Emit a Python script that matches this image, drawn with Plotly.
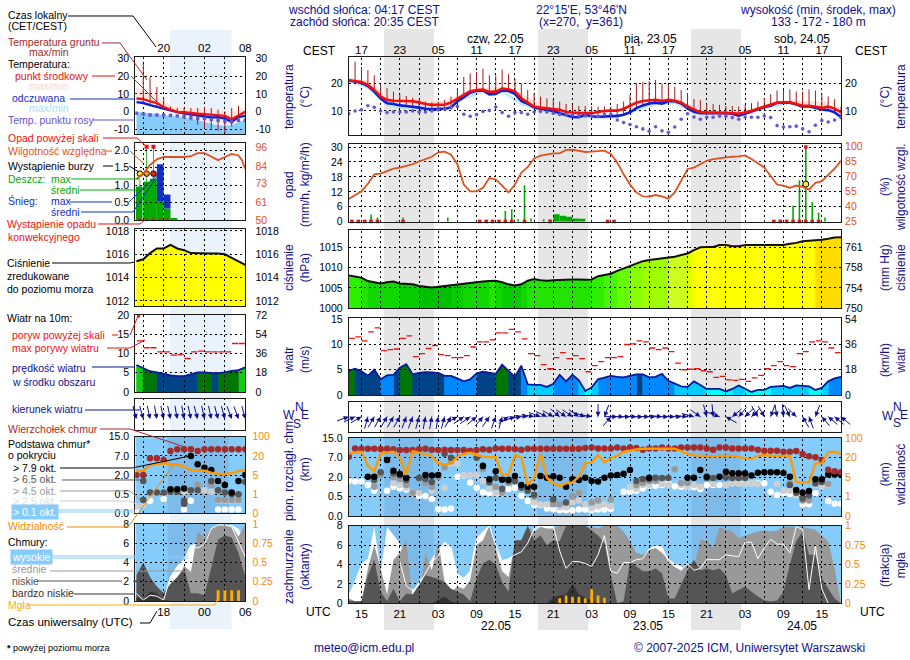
import math
import numpy as np
import plotly.graph_objects as go

W, H = 910, 660
FONT = "Liberation Sans"
NAVY = "#10108c"
ORANGE = "#f58a00"
RHC = "#e0501e"
BLUEBG = "#85ccfa"
BLUEBAND = "#7dbcea"

# ---------------- main meteogram data (hourly, t = hours since 21.05 00 UTC)
t_start = 13
temp_mid = [21.1,20.7,20.5,19.4,17.6,15.2,14.0,13.7,13.6,13.5,13.5,13.1,12.5,12.2,12.3,12.3,13.0,14.5,15.8,17.1,17.6,17.7,16.9,17.0,18.1,17.8,17.1,14.6,13.1,11.6,11.2,11.0,10.8,10.4,9.6,9.3,9.2,9.2,9.2,9.6,10.0,10.1,10.1,10.7,11.9,13.0,13.6,13.9,14.0,13.6,14.0,13.7,13.1,11.6,10.4,9.5,9.4,9.4,9.4,9.4,9.2,9.0,9.4,10.0,10.8,11.6,12.2,13.0,13.1,13.1,12.5,11.9,11.9,11.4,11.1,11.6,10.8,9.5]
temp_felt = [21.0,20.6,20.2,19.0,17.0,14.5,12.8,12.5,12.0,11.8,11.6,11.2,10.8,10.6,10.8,10.8,11.2,13.5,15.0,16.6,17.3,17.4,16.0,16.1,17.4,17.2,16.2,13.6,12.6,11.2,10.8,10.5,10.0,9.2,8.4,7.8,7.7,8.6,8.1,7.9,8.0,8.0,8.2,8.6,9.5,11.0,12.0,12.7,13.0,12.6,13.5,13.5,12.7,11.0,9.7,9.2,9.2,9.2,9.3,9.2,9.0,8.3,9.0,9.8,10.6,11.4,11.9,12.9,13.0,13.0,12.3,11.5,11.7,11.0,10.5,10.3,9.5,7.8]
dew_point = [9.0,10.0,10.4,11.9,11.3,10.0,9.4,9.6,9.6,9.6,10.0,9.6,9.6,10.0,10.4,10.7,11.2,11.6,8.8,8.1,8.7,9.8,10.2,11.4,9.4,8.1,9.4,9.4,8.8,9.6,9.8,9.6,9.2,8.7,8.7,8.4,8.2,8.2,8.2,8.0,8.7,8.8,6.7,5.8,5.1,4.3,3.5,2.7,4.3,2.8,2.3,4.2,7.0,9.0,7.8,7.0,7.7,7.7,8.1,8.1,7.6,7.0,7.8,7.7,7.7,8.2,7.6,4.7,4.2,4.3,4.5,3.5,2.5,4.8,6.5,6.0,6.7,7.6]
ground_max = [None,27.8,26.0,24.8,22.9,19.5,18.2,17.0,16.0,15.4,14.8,14.0,13.4,13.1,13.4,14.0,15.2,18.2,22.3,23.5,24.1,25.3,22.9,22.9,25.0,23.3,21.7,20.0,17.6,16.4,15.2,14.6,14.2,13.4,12.5,12.2,11.8,11.8,11.6,11.6,11.6,11.6,12.5,13.4,15.8,20.0,20.4,20.8,21.2,20.0,19.6,18.8,17.6,16.5,14.3,14.0,12.5,12.5,12.2,11.8,11.8,11.6,12.2,12.8,13.4,14.6,16.1,17.4,17.6,17.8,17.0,17.0,17.8,17.4,16.4,15.2,14.3,11.6]
band_t = [13,16,19,22,25,28,31,34,37,40,43,46,49,52,55,58,61,64,67,70,73,76,79,82,85,88]
pink_top = [22,21,15.5,14.8,14,13.5,16.5,18.2,18.8,16.5,12.5,11.5,10,10.3,10.8,13.6,14.5,14.3,11.5,11,10.5,10.8,13,14,13.5,13.2]
felt_bot = [20.5,18,11.7,10.5,9.5,10,14,16.5,16.5,12,9.8,8.2,7.2,7.2,7.4,10,12,12.5,9,8.8,8.5,9,11.2,12.4,11.2,9.5]

humidity = [47.4,51,55,62.5,71.9,72.5,75,77.6,78.6,80,81.9,84.6,86.6,89.3,93.6,94.3,91.3,81.9,61.8,55,55,58.5,68.2,66.8,60.8,54,61.8,73.5,79.2,87.6,90.3,91.6,92.6,92.6,96,96.3,95,94,94.3,95,95.3,92,83.6,71.9,61.8,54,50,49.8,51.4,50,47.8,54,65.2,77.2,78.6,81.9,85.3,87,87.9,88.6,89.3,89.6,90.6,87,82.9,78.6,70.2,61.8,60.8,58.5,60.8,59.5,56.8,63.5,65.2,70.9,77.6,85.3]
rain_t = [16.5,17.5,20.5,21.5,28.5,37.5,38.5,39.5,40.5,41.5,43.5,44.5,45.5,46.5,47.5,48.5,49.5,53.5,82.5,83.5,84.5,85.5,86.5,87.5]
rain_v = [2.9,1.7,0.4,1.7,1.7,4.3,5.0,1.0,14.6,1.3,1.0,1.0,3.0,2.4,2.0,1.3,1.2,0.2,6.4,16.7,30.0,7.9,3.7,1.7]
rain_w = [.25,.25,.2,.25,.25,.25,.25,.25,.25,.25,.25,.25,1,1,1,1,1,.3,.25,.25,.25,.25,.25,.25]
conv_t = [13.5,14.5,15.5,16.5,17.5,21.5,33.5,34.5,35.5,36.5,37.5,38.5,40.5,44.5,53.5,54.5,79.5,80.5,81.5,82.5,83.5,84.5,85.5,86.5]
storm_t = [84.5]
storm_v = [15.1]
over_t = [84.5]
over_v = [30]

pressure = [1008.1,1007.8,1007.5,1006.7,1006.4,1006.1,1006.4,1006.6,1006.1,1006.0,1005.9,1005.5,1005.3,1005.1,1005.3,1005.5,1005.6,1005.9,1006.1,1006.3,1006.5,1006.6,1006.7,1006.8,1006.4,1005.9,1005.6,1005.9,1006.8,1007.2,1006.9,1006.8,1006.9,1007.0,1007.0,1007.1,1007.1,1007.0,1007.1,1007.9,1008.2,1008.5,1009.2,1009.8,1010.5,1011.1,1011.6,1011.9,1012.1,1012.3,1012.5,1012.7,1013.1,1013.5,1014.3,1015.0,1015.1,1015.1,1015.6,1015.6,1015.3,1015.3,1015.6,1015.6,1015.6,1015.6,1015.6,1015.6,1015.6,1015.9,1016.1,1016.5,1016.6,1016.7,1016.9,1017.1,1017.4,1017.5]
wind = [4.8,5.2,4.7,3.8,5.0,3.1,3.9,4.0,5.4,6.1,4.1,4.4,4.5,4.5,4.4,3.8,3.8,3.3,2.7,3.1,4.3,4.6,4.4,4.2,6.0,4.8,3.6,5.8,2.1,2.0,2.0,1.6,2.2,4.0,2.7,4.0,2.9,0.8,1.5,3.1,3.4,3.8,3.6,3.5,3.8,4.1,4.1,3.5,3.6,4.2,2.8,2.3,1.7,1.6,2.7,2.0,1.2,1.2,1.2,0.7,1.2,1.9,1.3,0.6,1.0,1.0,1.6,1.7,1.8,1.4,1.9,1.8,1.7,1.0,1.4,2.7,3.3,3.6]
gust = [11.2,11.5,10.7,12.5,13.3,8.8,9.0,9.1,11.2,11.7,7.6,8.2,9.2,9.8,8.0,7.8,7.4,7.4,7.8,9.5,10.5,10.5,10.9,12.3,12.3,13.0,12.5,11.1,8.2,7.8,6.0,5.2,7.4,8.4,7.2,7.8,7.2,4.6,5.8,6.6,7.4,7.4,7.6,10.0,10.1,10.7,10.5,9.3,9.0,9.3,8.6,6.3,5.0,5.1,5.2,4.8,4.6,3.5,3.7,3.0,2.9,3.1,2.7,3.4,3.9,5.2,5.8,6.6,5.8,5.6,8.2,8.6,10.5,10.7,10.5,9.3,8.4]
wind_dir = [70,65,60,15,30,30,30,30,30,20,20,15,10,10,10,15,30,60,55,55,50,40,35,20,15,55,70,80,95,100,110,115,120,130,125,125,125,110,100,180,200,40,90,92,90,92,90,92,90,95,90,92,90,95,105,125,165,175,110,300,230,220,225,225,150,150,200,170,175,155,135,330,340,200,320,310,310,310]

cb_top = [3.05,3.48,3.46,3.46,3.46,3.45,3.46,3.43,3.4,3.4,3.4,3.43,3.46,3.41,3.4,3.41,3.4,3.4,3.4,3.36,3.4,3.43,3.41,3.48,3.46,3.46,3.45,3.41,3.46,3.46,3.46,3.46,3.46,3.46,3.46,3.46,3.46,3.5,3.53,3.48,3.48,3.48,3.53,3.48,3.53,3.5,3.41,3.48,3.48,3.53,3.48,3.48,3.53,3.53,3.53,3.53,3.48,3.41,3.53,3.53,3.48,3.48,3.48,3.48,3.41,3.36,3.36,3.36,3.31,3.31,3.34,3.19,3.07,3.02,2.88,2.38,2.3,2.25]
cb79_t = [16,17,19,20,21,22,25,26,27,34,35,36,37,38,39,40,41,42,43,44,45,46,47,48,49,50,51,52,53,54,55,56,57,60,66,67,68,69,71,72,73,74,75,76,77,78,79,80,81,82,83,84,85,86,87,88,89,90]
cb79_v = [2.02,2.02,2.88,2.33,2.16,1.97,2.11,2.09,2.11,2.59,1.89,2.3,1.87,1.87,2.06,1.6,1.51,1.51,2.06,1.97,2.04,1.97,1.51,1.89,1.85,1.97,1.8,1.77,1.97,2.09,2.11,2.18,2.37,1.97,1.97,1.97,2.37,2.02,2.02,2.28,2.2,2.2,2.2,2.08,2.23,2.25,2.25,2.25,2.21,2.02,1.34,1.2,1.29,1.89,1.89,2.13,2.14,2.14]
cb65_t = [17,18,20,21,22,24,25,26,28,29,33,34,35,36,37,38,39,40,41,42,45,47,58,59,60,61,62,63,69,70,72,73,74,75,82,83,84,85,86,87,89,90]
cb65_v = [1.85,2.25,2.2,2.1,1.85,1.95,1.9,1.75,3.2,3.0,3.0,2.55,1.75,1.95,1.4,1.8,1.8,1.45,1.3,1.1,.85,.7,1.8,1.9,1.9,1.97,1.95,1.95,1.95,1.95,2.0,1.95,1.95,1.95,1.6,1.2,.9,1.05,1.7,1.75,2.2,2.2]
cb45_t = [17,18,20,21,22,23,25,26,27,28,29,34,35,36,37,38,42,45,46,48,49,51,52,54,58,59,60,61,64,65,66,82,83,84,85,86,88,89]
cb45_v = [1.5,2.1,2.0,1.9,1.6,1.2,1.7,1.5,2.0,2.5,2.8,2.4,1.7,1.5,1.2,1.7,1.0,.6,.6,1.0,1.2,.7,.8,.85,1.6,1.7,1.8,1.8,2.4,1.7,1.7,1.7,1.3,.8,.8,1.65,1.65,2.1]
cb25_t = [20,21,22,23,24,26,28,29,30,31,32,33,34,35,36,37,38,42,43,44,46,47,48,49,50,51,52,53,54,57,58,59,60,62,63,65,66,67,68,70,72,73,74,75,76,77,80,81,82,83,86,87,88]
cb25_v = [1.7,1.6,1.45,1.2,1.2,1.3,1.45,2.7,2.7,2.1,2.1,2.1,1.8,1.4,1.2,1.2,1.7,.7,.6,.6,.45,.45,.7,.8,.6,.4,.5,.6,.5,1.5,1.4,1.6,1.6,1.65,1.6,1.6,1.5,1.6,1.5,1.65,1.6,1.7,1.65,1.65,1.7,1.65,1.65,1.3,1.3,1.1,1.6,1.5,1.6]
cb01_t = [13,14,15,16,17,19,20,21,22,23,24,25,26,27,28,29,30,31,32,33,34,35,36,37,38,39,40,41,42,43,44,45,46,47,48,49,50,51,52,53,54,56,57,58,59,60,61,62,63,64,65,66,67,68,69,70,71,72,73,74,75,76,77,78,79,80,81,82,83,84,85,86,88,89,90]
cb01_v = [1.82,1.77,1.77,1.6,1.3,1.3,1.51,1.42,1.37,1.2,1.03,1.03,.87,.36,.34,.39,2.02,2.08,1.72,1.46,1.22,1.17,1.17,1.17,1.39,1.46,1.03,.77,.57,.57,.39,.34,.29,.29,.29,.33,.34,.29,.33,.33,.36,1.25,1.25,1.3,1.42,1.56,1.56,1.6,1.68,1.53,1.51,1.48,1.48,1.39,1.6,1.6,1.6,1.6,1.68,1.68,1.68,1.68,1.68,1.68,1.25,1.08,1.17,1.13,1.08,.6,.6,1.17,.77,.63,.63]
visibility = [3.22,3.26,3.31,2.59,2.32,3.22,3.26,3.31,3.0,2.11,3.34,3.26,3.19,3.09,2.71,2.66,2.71,3.05,3.19,3.26,3.14,3.05,3.02,3.02,2.11,2.14,3.14,3.02,1.63,1.94,3.22,1.97,1.68,1.54,1.68,1.73,2.02,2.71,2.76,3.14,2.76,2.97,3.1,3.31,3.36,3.43,3.46,3.46,3.46,3.46,3.46,3.46,3.34,3.19,3.12,3.1,3.07,3.07,3.09,3.09,3.09,3.03,2.97,2.93,3.09,3.14,3.09,3.09,3.09,3.09,1.75,1.73,1.73,2.71,2.71,3.28,3.31,3.19]

cl_high = [.9,2.4,4.1,4.6,7.9,3.2,7.9,7.0,6.2,4.5,1.3,2.2,3.6,4.6,5.6,6.3,5.7,3.0,2.6,3.3,6.7,7.4,8.0,5.7,4.3,4.6,5.0,6.0,7.0,7.5,8.0,8.0,8.0,7.0,7.0,6.5,6.0,6.0,6.0,5.0,4.5,4.0,3.5,4.2,4.5,4.6,4.8,5.6,5.9,5.8,4.6,4.1,3.8,3.3,4.3,3.4,3.0,2.5,2.0,1.5,1.0,.5,.2,0,0,0,0,0,0,0,0,0,0,0,0,0,0,0]
cl_mid = [.5,.2,.2,3.6,6.0,3.6,.9,4.5,5.2,6.5,.7,.9,5.2,3.4,6.5,2.2,1.2,1.7,1.5,2.4,6.0,6.5,8.0,5.5,3.3,2.7,6.4,6.5,7.9,7.4,7.9,7.7,7.7,8.0,8.0,8.0,8.0,7.9,7.9,7.7,8.0,8.0,8.0,7.4,6.4,5.2,5.0,5.5,5.7,5.2,4.5,3.8,3.4,4.1,3.8,6.5,6.5,5.7,7.9,7.6,7.4,6.7,7.0,7.2,7.4,7.5,7.4,7.5,7.9,7.9,7.9,7.9,7.7,7.6,7.0,6.4,3.6,.2]
cl_low = [.3,.2,.2,2.9,4.5,1.2,.2,1.5,.2,1.0,.9,1.9,2.9,2.7,2.5,2.2,1.5,1.2,.9,.2,2.6,4.1,4.5,4.0,2.2,1.2,6.5,6.5,8.0,6.5,7.0,6.0,6.5,6.4,8.0,8.0,8.0,8.0,7.5,7.0,6.2,2.9,0,.2,4.3,3.8,3.3,3.3,3.6,3.1,.5,.5,1.9,3.4,4.5,3.4,3.6,3.4,3.6,2.9,1.0,1.4,1.7,1.2,.7,.3,.2,.3,1.2,4.0,6.4,7.4,5.0,5.0,2.6,1.5,.5,0]
cl_vlow = [0,0,0,0,0,0,0,0,0,0,0,0,0,0,.35,.7,.2,0,0,0,0,0,0,0,0,0,0,0,0,0,0,0,.6,.8,.9,2.0,.9,.6,.2,0,0,0,0,0,0,0,0,0,0,0,0,0,0,0,0,0,0,0,0,0,0,0,0,0,0,0,0,0,0,0,0,0,0,0,0,0,0,0]
cl_line_t = list(range(21, 89))
cl_line = [4.3,1.8,1.3,1.9,3.1,4.3,4.8,6.3,5.8,3.0,2.6,3.3,6.7,7.4,8.0,6.0,4.4,4.6,5.0,5.3,6.2,7.7,8.0,8.0,8.0,5.4,3.6,4.3,4.3,4.1,3.8,5.0,7.0,3.3,3.1,4.2,4.2,4.5,4.6,5.6,5.9,5.8,4.3,3.8,3.4,4.1,3.4,3.6,4.5,4.5,4.5,5.0,4.9,4.8,6.3,6.3,4.6,5.7,6.6,6.1,6.1,5.2,7.9,7.6,1.4,5.9,1.5,0.0]
fog_t = [46,47,48,49,50,51,52,53]
fog_v = [.065,.1,.086,.086,.065,.18,.1,.07]

# ---------------- legend (left mini) data, t = 14 .. 30
mt = list(range(14, 31))
m_red = [7.4,7.0,5.7,4.8,2.5,1.0,-0.2,-0.4,-1.0,-1.3,-1.5,-1.9,-2.3,-2.5,-4.4,-2.5,-0.2]
m_blue = [5.3,4.8,3.6,2.5,1.5,0.4,-0.4,-1,-1.5,-2.3,-2.9,-3.4,-3.2,-4,-5.9,-3.2,-2.5]
m_pink = [14,12,10.5,8,6,4,3,2.5,2,1.5,1,1,.5,.5,0,1,2]
m_lblue = [-.5,-.5,-1,-1.5,-2,-2.5,-3,-3.5,-4,-5,-6,-7,-8,-8,-8,-6,-5]
m_dew = [-1,-1.5,-2,-2,-2,-2.2,-2.5,-3,-3.5,-4,-4,-4.5,-5,-5.5,-6,-5,-5]
m_gmax = [None,27,19.4,13.9,7.6,2.9,1.9,2,2,2,2,2,1,0,2,3.2,None]
m_gmin = [None,5,3.6,2.5,1.5,.4,-.4,-2.5,-5,-7.6,-9.5,-10.5,-11,-12.4,-8.6,-2.9,None]
m_rh = [76,79.5,85,88.5,90,90,90,90,90.5,92.5,92.5,90,88,90,92,91,88,82.5]
m_rh_t = [14,15,16,17,18,19,20,21,22,23,24,25,26,27,28,29,29.5,30]
m_rain_t = [14.4,15.5,16.5,17.5,18.5,19.5]
m_rain = [.96,1.1,1.18,.52,.33,.06]
m_snow = [0,0,0,1.08,.4,0]
m_spike_t = [14.5,15.5,16.5]
m_spike = [1.15,2.13,2.13]
m_conv_t = [14.5,15.5,16.5,17.5,18.5]
m_storm_t = [14.5,15.5,16.5]
m_storm_v = [1.33,1.33,1.33]
m_storm_c = ["#ffee33","#f0a020","#ee2211"]
m_over_t = [15.5,16.5]
m_press = [1015.4,1015.57,1016.1,1016.5,1016.5,1016.8,1016.5,1016.35,1016.1,1016.07,1016.07,1016.07,1016.07,1016,1015.7,1015.4,1015.1]
m_wind = [7,6.1,5.4,5.1,4.8,4.3,4.1,4.1,4.6,5.1,5.1,4.9,4.9,5.1,5.5,5.7,6.4]
m_gust = [13.3,11.5,11.5,10.4,10.4,9.6,9.7,8.7,10.4,10.6,10.4,10.4,10.4,10.4,12.6,12.6]
m_dir = [165,165,168,170,168,168,170,170,168,165,168,168,165,165,160,160,165]
m_top = [2,2,2.87,2.87,2.78,3.25,3.34,3.34,3.34,3.25,3.34,3.34,3.34,3.34,3.34,3.34,3.34]
m_b79_t = [19,20,21,22,23,24,25,26,27,28,29,30]
m_b79 = [1.25,1.25,1.3,2.99,2.56,2.38,2.26,1.69,1.48,1.08,1.69,2.0]
m_b65_t = [15,15,16,17,18,19,20,21,21,22,23,25,26,27,28,29,30]
m_b65 = [1.69,.7,1.08,1.08,1.08,1.13,1.13,.66,.5,1.2,1.2,1.69,1.2,1.08,1.0,1.0,1.65]
m_b45_t = [15,19,23,25,26,27,28,29]
m_b45 = [.7,1.25,1.48,1.48,.7,.7,.7,.7]
m_b25_t = [14,15,16,17,18,19,20,21,23,24,25,26,27,28,29]
m_b25 = [.35,.43,1.04,1.08,1.08,1.25,1.22,1.13,1.22,1.22,1.13,.66,.66,.66,.66]
m_b01_t = [14,15,16,18,21,22,26,27,28,29]
m_b01 = [.17,.6,.66,.73,.2,.66,.2,.2,.2,.2]
m_vis = [2.21,2.23,2.52,2.57,2.61,2.57,2.56,2.43,2.26,2.23,2.23,2.12,2.05,2.05,2.09,2.21,2.26]
m_cl_high = [0,0,0,0,.3,2.5,3.6,4.3,5.8,6,6.6,7.6,7.9,7.9,7.9,7.5,6.3]
m_cl_mid = [1.5,1,.8,.7,1,1.5,1.8,3.7,3,7.2,6.6,7.6,7.9,7.9,7.8,6.7,8]
m_cl_low = [2.7,4,2.5,1.5,.8,1.8,2.5,3.4,.8,.8,.6,3.5,6.4,6.8,6.6,5,2.5]
m_cl_vlow = [.4,.1,1,.8,.1,0,0,0,0,0,0,0,0,0,0,0,0]
m_cl_line_t = [14,15,16,17,18,19,20,21,22,23,24,25,26,27,28,29,30]
m_cl_line = [.8,.1,.6,.5,.1,2.5,3.6,4.3,5.8,5.5,5.9,7.5,7.9,7.9,7.7,6.2,4.6]
m_fog_t = [26,27,28,29]
m_fog = [.14,.14,.14,.14]

# ---------------- axis labels
ut_ticks = [15,21,27,33,39,45,51,57,63,69,75,81,87]
cest_txt = ["17","23","05","11","17","23","05","11","17","23","05","11","17"]
utc_txt = ["15","21","03","09","15","21","03","09","15","21","03","09","15"]
cb_pos = [0,1,2,3,4]
cb_txt = ["0.0","0.5","2.0","7.0","15.0"]
vis_txt = ["0","1","5","20","100"]
cb_txt_main = ["0.0","0.5","2.0","7.0","15.0"]

fig = go.Figure()
layout = {}
shapes = []
annots = []


def px(x):
    return x / W


def py(y):
    return 1 - y / H


def panel(n, x0, x1, y0, y1, xr, yr, yvals=None, ytxt=None, rr=None, rvals=None, rtxt=None,
          rcolor="#000", xvals=None, xtxt=None, xside="bottom", left_color="#000", fs=10.5, rlen=1, xlen=0):
    xa = dict(domain=[px(x0), px(x1)], range=xr, anchor=f"y{n}", showgrid=False, zeroline=False, automargin=False,
              showline=True, mirror=True, linecolor="#1a1a1a", linewidth=1, side=xside,
              tickmode="array", tickvals=xvals or [], ticktext=xtxt or [], ticks="outside", ticklen=xlen,
              tickcolor="rgba(0,0,0,0)", tickfont=dict(family=FONT, size=11.5, color="#000"),
              fixedrange=True)
    ya = dict(domain=[py(y1), py(y0)], range=yr, anchor=f"x{n}", showgrid=False, zeroline=False, automargin=False,
              showline=True, mirror=True, linecolor="#1a1a1a", linewidth=1,
              tickmode="array", tickvals=yvals or [], ticktext=ytxt or [], ticks="outside", ticklen=3,
              tickcolor="rgba(0,0,0,0)", tickfont=dict(family=FONT, size=fs, color=left_color),
              fixedrange=True)
    rng = rr or yr
    rv = rvals if rvals is not None else (yvals or [])
    ya2 = dict(overlaying=f"y{n}", side="right", anchor=f"x{n}", range=rng, showgrid=False, zeroline=False, automargin=False,
               showline=False, tickmode="array", tickvals=rv, ticktext=rtxt or [], ticks="outside", ticklen=rlen,
               tickcolor="rgba(0,0,0,0)", tickfont=dict(family=FONT, size=fs, color=rcolor), fixedrange=True)
    layout[f"xaxis{n}"] = xa
    layout[f"yaxis{n}"] = ya
    layout[f"yaxis{n+14}"] = ya2
    # an axis without a trace is not drawn: keep the right-hand scale alive
    fig.add_trace(go.Scatter(x=[xr[0]], y=[rng[0]], mode="markers", marker=dict(size=1, opacity=0), xaxis=f"x{n}",
                             yaxis=f"y{n+14}", hoverinfo="skip", showlegend=False))


def grid(n, xr, yr, xs, ys):
    gx, gy = [], []
    for v in xs:
        gx += [v, v, None]
        gy += [yr[0], yr[1], None]
    for v in ys:
        gx += [xr[0], xr[1], None]
        gy += [v, v, None]
    fig.add_trace(go.Scatter(x=gx, y=gy, mode="lines", xaxis=f"x{n}", yaxis=f"y{n}", hoverinfo="skip",
                             line=dict(color="#000", width=1, dash="2px,3px"), showlegend=False))


def line(n, x, y, color, width=1, right=False, shape="linear"):
    fig.add_trace(go.Scatter(x=x, y=y, mode="lines", xaxis=f"x{n}", yaxis=f"y{n+14 if right else n}",
                             line=dict(color=color, width=width, shape=shape), hoverinfo="skip", connectgaps=False,
                             showlegend=False))


def area(n, x, ytop, ybot, color, right=False):
    xs = list(x) + list(x)[::-1]
    if np.isscalar(ybot):
        ybot = [ybot] * len(x)
    ys = list(ytop) + list(ybot)[::-1]
    fig.add_trace(go.Scatter(x=xs, y=ys, mode="lines", fill="toself", fillcolor=color, line=dict(width=0),
                             xaxis=f"x{n}", yaxis=f"y{n+14 if right else n}", hoverinfo="skip", showlegend=False))


def dots(n, x, y, color, size=6.5, symbol="circle", right=False, mline=None, clip=True):
    fig.add_trace(go.Scatter(x=x, y=y, mode="markers", xaxis=f"x{n}", yaxis=f"y{n+14 if right else n}",
                             cliponaxis=clip, hoverinfo="skip", showlegend=False,
                             marker=dict(color=color, size=size, symbol=symbol,
                                         line=dict(width=1 if mline else 0, color=mline or color))))


def seg_fill(n, x, y, colorfn, base):
    groups = {}
    for i in range(len(x) - 1):
        c = colorfn((y[i] + y[i + 1]) / 2)
        g = groups.setdefault(c, ([], []))
        g[0].extend([x[i], x[i + 1], x[i + 1], x[i], x[i], None])
        g[1].extend([y[i], y[i + 1], base, base, y[i], None])
    for c, (gx, gy) in groups.items():
        fig.add_trace(go.Scatter(x=gx, y=gy, mode="lines", fill="toself", fillcolor=c, line=dict(width=0.6, color=c),
                                 xaxis=f"x{n}", yaxis=f"y{n}", hoverinfo="skip", showlegend=False))


def press_color(p):
    steps = [(1005.6, "#00c000"), (1006.2, "#08cc00"), (1006.7, "#10d800"), (1007.3, "#22e400"), (1008.3, "#2cf000"),
             (1009.5, "#44f800"), (1010.5, "#66ff00"), (1011.5, "#88ff00"), (1012.6, "#a0ff00"), (1013.4, "#ccff20"),
             (1014.3, "#e4ff00"), (1016.8, "#ffff00"), (1099, "#ffdc00")]
    for lim, c in steps:
        if p < lim:
            return c
    return "#ffdc00"


def m_press_color(p):
    return "#ffd000" if p > 1016.65 else "#ffff00"


def wind_color(v):
    if v < 1.5:
        return "#00ffff"
    if v < 2.5:
        return "#00ccff"
    if v < 4.0:
        return "#0088ff"
    if v < 5.0:
        return "#004488"
    if v < 6.0:
        return "#007700"
    return "#11cc11"


def arrow(n, x, y, bearing, L):
    r = math.radians(bearing)
    annots.append(dict(x=x, y=y, xref=f"x{n}", yref=f"y{n}", text="", showarrow=True, arrowhead=2, arrowsize=1,
                       arrowwidth=1, arrowcolor="#10108c", ax=-L * math.sin(r), ay=L * math.cos(r)))


def txt(x, y, s, color="#000", size=10.5, anchor="left", angle=0, bg=None):
    d = dict(x=px(x), y=py(y), xref="paper", yref="paper", text=s, showarrow=False, xanchor=anchor, yanchor="middle",
             font=dict(family=FONT, size=size, color=color), textangle=angle, align="center")
    if bg:
        d["bgcolor"] = bg
    annots.append(d)


def lead(pts, color="#000", width=1):
    path = "M " + " L ".join(f"{px(a):.5f} {py(b):.5f}" for a, b in pts)
    shapes.append(dict(type="path", path=path, xref="paper", yref="paper", line=dict(color=color, width=width),
                       layer="above"))


def rect_shape(n, x0, x1, y0, y1, color):
    shapes.append(dict(type="rect", xref=f"x{n}", yref=f"y{n}", x0=x0, x1=x1, y0=y0, y1=y1,
                       fillcolor=color, line=dict(width=0), layer="below"))


# ---- paper bands
for a, b in [(384, 434), (538, 588), (691, 741)]:
    shapes.append(dict(type="rect", xref="paper", yref="paper", x0=px(a), x1=px(b), y0=py(630), y1=py(29),
                       fillcolor="#e6e6e6", line=dict(width=0), layer="below"))
shapes.append(dict(type="rect", xref="paper", yref="paper", x0=px(170), x1=px(231.5), y0=py(629), y1=py(30),
                   fillcolor="#eaf2fc", line=dict(width=0), layer="below"))

XM = [13, 90]
XL = [13.83, 30]
Tall = np.arange(t_start, t_start + len(temp_mid))
Tlist = [int(v) for v in Tall]
g3 = list(range(15, 91, 3))
g3m = [15, 18, 21, 24, 27]
nights = [(18.58, 26.28), (42.58, 50.28), (66.58, 74.28)]

# ================= MAIN PANELS =================
# 1 temperature
yr = [1.3, 29.4]
panel(1, 348.7, 841, 57.3, 135, XM, yr, [10, 20], ["10", "20"], rtxt=["10", "20"], xvals=ut_ticks, xtxt=cest_txt, xside="top")
layout["xaxis1"]["ticklabelstandoff"] = -2
area(1, band_t, pink_top, [temp_mid[v - 13] for v in band_t], "#fde0da")
area(1, band_t, [temp_felt[v - 13] for v in band_t], felt_bot, "#c3e8f8")
grid(1, XM, yr, g3, [10, 20])
gx, gy = [], []
for i, v in enumerate(ground_max):
    if v is not None:
        gx += [Tlist[i], Tlist[i], None]
        gy += [temp_felt[i], v, None]
line(1, gx, gy, "#a01c1c", 1)
line(1, Tlist, temp_felt, "#0a1ee0", 2.6)
line(1, Tlist, temp_mid, "#f01010", 2.6)
dots(1, Tlist, dew_point, "#6a55cc", 3.6)

# 2 precipitation
yr = [0, 31.1]
rr = [25, 101.6]
panel(2, 348.7, 841, 144.3, 221.7, XM, yr, [0, 6, 12, 18, 24, 30], ["0", "6", "12", "18", "24", "30"], rr=rr,
      rvals=[25, 40, 55, 70, 85, 100], rtxt=["25", "40", "55", "70", "85", "100"], rcolor=RHC)
fig.add_trace(go.Bar(x=rain_t, y=rain_v, width=rain_w, marker=dict(color="#00aa00", line=dict(width=0)), xaxis="x2", yaxis="y2",
                     hoverinfo="skip", showlegend=False))
grid(2, XM, yr, g3, [6, 12, 18, 24, 30])
dots(2, conv_t, [0.1] * len(conv_t), "#e81414", 3.6, "square", clip=False)
dots(2, over_t, over_v, "#e81414", 4, "circle")
dots(2, storm_t, storm_v, "#ffee33", 6, "circle", mline="#000")
line(2, Tlist, humidity, RHC, 1.8, right=True)

# 3 pressure
yr = [1000, 1019.2]
panel(3, 348.7, 841, 230.3, 308.3, XM, yr, [1000, 1005, 1010, 1015], ["1000", "1005", "1010", "1015"],
      rtxt=["750", "754", "758", "761"])
seg_fill(3, Tlist, pressure, press_color, 1000)
grid(3, XM, yr, g3, [1005, 1010, 1015])
line(3, Tlist, pressure, "#111", 2)

# 4 wind
yr = [0, 15.3]
panel(4, 348.7, 841, 317.7, 395, XM, yr, [0, 5, 10, 15], ["0", "5", "10", "15"], rtxt=["0", "18", "36", "54"])
seg_fill(4, Tlist, wind, wind_color, 0)
grid(4, XM, yr, g3, [5, 10])
line(4, Tlist, wind, "#0a1a9a", 1.8)
gx, gy = [], []
for i, v in enumerate(gust):
    gx += [Tlist[i] + 0.05, Tlist[i] + 0.95, None]
    gy += [v, v, None]
line(4, gx, gy, "#f01010", 1.3)

# 5 direction
yr = [-1, 1]
panel(5, 348.7, 841, 401.7, 431.7, XM, yr, [], [])
grid(5, XM, yr, g3, [])
fig.add_trace(go.Scatter(x=Tlist, y=[0] * len(Tlist), mode="markers", marker=dict(size=1, color="#10108c"), xaxis="x5", yaxis="y5",
                         hoverinfo="skip", showlegend=False))
for tv, d in zip(Tlist, wind_dir):
    arrow(5, tv, 0, d, 14)

# 6 cloud base
yr = [0, 4.03]
panel(6, 348.7, 841, 437.7, 516, XM, yr, cb_pos, cb_txt_main, rtxt=vis_txt, rcolor=ORANGE)
rect_shape(6, XM[0], XM[1], yr[0], yr[1], BLUEBG)
for a, b in nights:
    rect_shape(6, a, b, yr[0], yr[1], BLUEBAND)
grid(6, XM, yr, g3, [1, 2, 3])
dots(6, cb01_t, cb01_v, "#ffffff")
dots(6, cb25_t, cb25_v, "#cfcfcf")
dots(6, cb45_t, cb45_v, "#999999")
dots(6, cb65_t, cb65_v, "#555555")
dots(6, cb79_t, cb79_v, "#000000")
dots(6, Tlist, cb_top, "#a52a2a")
line(6, Tlist, visibility, "#ff9900", 2.4)

# 7 cloud cover
yr = [0, 8]
panel(7, 348.7, 841, 525.7, 603.3, XM, yr, [0, 2, 4, 6, 8], ["0", "2", "4", "6", "8"], rr=[0, 1], rvals=[0, .25, .5, .75, 1],
      rtxt=["0", "0.25", "0.5", "0.75", "1"], rcolor=ORANGE, xvals=ut_ticks, xtxt=utc_txt)
rect_shape(7, XM[0], XM[1], yr[0], yr[1], BLUEBG)
for a, b in nights:
    rect_shape(7, a, b, yr[0], yr[1], BLUEBAND)
area(7, Tlist, cl_high, 0, "#ffffff")
area(7, Tlist, cl_mid, 0, "#999999")
area(7, Tlist, cl_low, 0, "#555555")
area(7, Tlist, cl_vlow, 0, "#333333")
grid(7, XM, yr, g3, [2, 4, 6])
line(7, cl_line_t, cl_line, "#ffffff", 1)
fig.add_trace(go.Bar(x=fog_t, y=fog_v, width=[.42] * len(fog_t), marker=dict(color="#ffae00", line=dict(width=0)), xaxis="x7", yaxis="y21",
                     hoverinfo="skip", showlegend=False))

# ================= LEGEND PANELS =================
LX0, LX1 = 135.3, 245.3
RL = 7
# 8 temp
yr = [-12.8, 30.8]
panel(8, LX0, LX1, 57.3, 134, XL, yr, [-10, 0, 10, 20, 30], ["-10", "0", "10", "20", "30"],
      rtxt=["-10", "0", "10", "20", "30"], xvals=[18, 24, 30], xtxt=["20", "02", "08"], xside="top", rlen=RL)
area(8, mt, m_pink, m_red, "#fde6df")
area(8, mt, m_lblue, -12.8, "#85ccfa")
grid(8, XL, yr, g3m, [-10, 10, 20])
gx, gy = [], []
for i in range(len(mt)):
    if m_gmax[i] is not None:
        gx += [mt[i], mt[i], None]
        gy += [m_gmin[i], m_gmax[i], None]
line(8, gx, gy, "#a01c1c", 1)
line(8, mt, m_blue, "#0a1ee0", 2.4)
line(8, mt, m_red, "#f01010", 2.4)
dots(8, mt, m_dew, "#6a55cc", 3.4, "square")

# 9 precip
yr = [0, 2.2]
rr = [50, 98.7]
panel(9, LX0, LX1, 143.3, 220, XL, yr, [0, .5, 1, 1.5, 2], ["0.0", "0.5", "1.0", "1.5", "2.0"], rr=rr,
      rvals=[50, 61, 73, 84, 96], rtxt=["50", "61", "73", "84", "96"], rcolor=RHC, rlen=RL)
fig.add_trace(go.Bar(x=m_rain_t, y=m_rain, width=[1] * len(m_rain), marker=dict(color="#00aa00", line=dict(width=0)), xaxis="x9", yaxis="y9",
                     hoverinfo="skip", showlegend=False))
fig.add_trace(go.Bar(x=m_rain_t, y=m_snow, base=m_rain, width=[1] * len(m_rain), marker=dict(color="#1030c8", line=dict(width=0)), xaxis="x9", yaxis="y9",
                     hoverinfo="skip", showlegend=False))
fig.add_trace(go.Bar(x=m_spike_t, y=m_spike, width=[.12] * 3, marker=dict(color="#00aa00", line=dict(width=0)), xaxis="x9", yaxis="y9",
                     hoverinfo="skip", showlegend=False))
grid(9, XL, yr, g3m, [.5, 1, 1.5, 2])
dots(9, m_conv_t, [0.01] * len(m_conv_t), "#e81414", 2.6, "square", clip=False)
dots(9, m_over_t, [2.1, 2.1], "#e81414", 4, "square")
dots(9, m_storm_t, m_storm_v, m_storm_c, 5.5, "circle", mline="#000")
line(9, m_rh_t, m_rh, RHC, 1.8, right=True)

# 10 pressure
yr = [1011.57, 1018.14]
panel(10, LX0, LX1, 229.3, 306, XL, yr, [1012, 1014, 1016, 1018], ["1012", "1014", "1016", "1018"], rtxt=["1012", "1014", "1016", "1018"], rlen=RL)
seg_fill(10, mt, m_press, m_press_color, yr[0])
grid(10, XL, yr, g3m, [1012, 1014, 1016, 1018])
line(10, mt, m_press, "#111", 2)

# 11 wind
yr = [0, 20]
panel(11, LX0, LX1, 315, 392, XL, yr, [0, 5, 10, 15, 20], ["0", "5", "10", "15", "20"], rtxt=["0", "18", "36", "54", "72"], rlen=RL)
seg_fill(11, mt, m_wind, wind_color, 0)
grid(11, XL, yr, g3m, [5, 10, 15])
line(11, mt, m_wind, "#0a1a9a", 1.8)
gx, gy = [], []
for i, v in enumerate(m_gust):
    gx += [mt[i] + 0.05, mt[i] + 0.95, None]
    gy += [v, v, None]
line(11, gx, gy, "#f01010", 1.3)
dots(11, [14.3], [19.7], "#f01010", 3)

# 12 direction
yr = [-1, 1]
panel(12, LX0, LX1, 398.7, 430, XL, yr, [], [])
grid(12, XL, yr, g3m, [])
fig.add_trace(go.Scatter(x=mt, y=[0] * len(mt), mode="markers", marker=dict(size=1, color="#10108c"), xaxis="x12", yaxis="y12",
                         hoverinfo="skip", showlegend=False))
for tv, d in zip(mt, m_dir):
    arrow(12, tv, -0.3, d, 15)

# 13 cloud base
yr = [0, 4.0]
panel(13, LX0, LX1, 436.7, 513.3, XL, yr, cb_pos, cb_txt, rtxt=vis_txt, rcolor=ORANGE, rlen=RL - 3)
rect_shape(13, XL[0], XL[1], yr[0], yr[1], BLUEBG)
rect_shape(13, 18.58, 27.55, yr[0], yr[1], BLUEBAND)
grid(13, XL, yr, g3m, [1, 2, 3])
dots(13, m_b01_t, m_b01, "#ffffff")
dots(13, m_b25_t, m_b25, "#cfcfcf")
dots(13, m_b45_t, m_b45, "#999999")
dots(13, m_b65_t, m_b65, "#555555")
dots(13, m_b79_t, m_b79, "#000000")
dots(13, mt, m_top, "#a52a2a")
line(13, mt, m_vis, "#ff9900", 2.4)

# 14 clouds
yr = [0, 8]
panel(14, LX0, LX1, 524, 601, XL, yr, [0, 2, 4, 6, 8], ["0", "2", "4", "6", "8"], rr=[0, 1], rvals=[0, .25, .5, .75, 1],
      rtxt=["0", "0.25", "0.5", "0.75", "1"], rcolor=ORANGE, xvals=[18, 24, 30], xtxt=["18", "00", "06"], rlen=RL - 3)
rect_shape(14, XL[0], XL[1], yr[0], yr[1], BLUEBG)
rect_shape(14, 18.58, 27.55, yr[0], yr[1], BLUEBAND)
area(14, mt, m_cl_high, 0, "#ffffff")
area(14, mt, m_cl_mid, 0, "#999999")
area(14, mt, m_cl_low, 0, "#555555")
area(14, mt, m_cl_vlow, 0, "#333333")
grid(14, XL, yr, g3m, [2, 4, 6])
line(14, m_cl_line_t, m_cl_line, "#ffffff", 1)
fig.add_trace(go.Bar(x=m_fog_t, y=m_fog, width=[.42] * 4, marker=dict(color="#ffae00", line=dict(width=0)), xaxis="x14", yaxis="y28",
                     hoverinfo="skip", showlegend=False))

# ================= TEXT =================
C2 = "#10108c"
txt(364, 9.5, "wschód słońca: 04:17 CEST", C2, 12, "center")
txt(364, 22, "zachód słońca: 20:35 CEST", C2, 12, "center")
txt(581, 9.5, "22°15'E, 53°46'N", C2, 12, "center")
txt(581, 22, "(x=270,  y=361)", C2, 12, "center")
txt(818, 9.5, "wysokość (min, środek, max)", C2, 12, "center")
txt(818, 22, "133 - 172 - 180 m", C2, 12, "center")
for x, s in [(495.7, "czw, 22.05"), (650, "pią, 23.05"), (802, "sob, 24.05")]:
    txt(x, 38.5, s, "#000", 12, "center")
for x, s in [(495.7, "22.05"), (648, "23.05"), (802, "24.05")]:
    txt(x, 626, s, "#000", 12, "center")
txt(319, 51, "CEST", "#000", 12, "center")
txt(871, 51, "CEST", "#000", 12, "center")
txt(318, 612, "UTC", "#000", 12, "center")
txt(872, 612, "UTC", "#000", 12, "center")
txt(364, 648, "meteo@icm.edu.pl", C2, 12, "center")
txt(749, 648, "© 2007-2025 ICM, Uniwersytet Warszawski", C2, 12, "center")

for y, s in [(97, "temperatura<br>(°C)"), (185, "opad<br>(mm/h, kg/m²/h)"), (268, "ciśnienie<br>(hPa)"), (360, "wiatr<br>(m/s)"),
             (470, "pion. rozciągł. chm.<br>(km)"), (567, "zachmurzenie<br>(oktanty)")]:
    txt(297, y, s, C2, 12, "center", -90)
for y, s in [(97, "(°C)<br>temperatura"), (187, "(%)<br>wilgotność wzgl."), (268, "(mm Hg)<br>ciśnienie"), (360, "(km/h)<br>wiatr"),
             (475, "(km)<br>widzialność"), (566, "(frakcja)<br>mgła")]:
    txt(893, y, s, C2, 12, "center", -90)
txt(289, 415, "W", C2, 12, "center")
txt(299, 407, "N", C2, 12, "center")
txt(305, 415, "E", C2, 12, "center")
txt(297, 424, "S", C2, 12, "center")
txt(888, 416, "W", C2, 12, "center")
txt(897, 407, "N", C2, 12, "center")
txt(904, 415, "E", C2, 12, "center")
txt(897, 423, "S", C2, 12, "center")

BR = "#a52a2a"
R = "#f01010"
G = "#00aa00"
B = "#1030c8"
txt(6, 15, "Czas lokalny"); txt(6, 26, "(CET/CEST)")
lead([(68, 16), (133, 16), (156, 47)])
txt(6, 42, "Temperatura gruntu", BR); txt(27, 52, "max/min", BR)
lead([(102, 43), (120, 43), (147, 80)], BR)
txt(6, 64, "Temperatura:")
txt(13, 76, "punkt środkowy", R); lead([(92, 76), (115, 76)], R); lead([(131, 76), (157, 102)], R)
txt(27, 86, "max/min", "#f8d8d0")
txt(10, 98, "odczuwana", B); lead([(70, 99), (135, 99)], B)
txt(27, 108, "max/min", "#a8dcf5")
txt(6, 120, "Temp. punktu rosy", "#6a55cc"); lead([(93, 120), (135, 120)], "#6a55cc")
txt(6, 138, "Opad powyżej skali", R); lead([(103, 138), (137, 138), (146, 146)], R)
txt(6, 151, "Wilgotność względna", RHC); lead([(106, 151), (112, 151)], RHC); lead([(130, 151), (143, 163)], RHC)
txt(6, 166, "Wystąpienie burzy"); lead([(103, 166), (113, 166)]); lead([(129, 166), (139, 172)])
txt(6, 179, "Deszcz:", G); txt(49, 179, "max", G); lead([(71, 179), (140, 179)], G)
txt(49, 190, "średni", G); lead([(80, 190), (140, 190)], G)
txt(6, 201, "Śnieg:", B); txt(49, 201, "max", B); lead([(70, 202), (112, 202)], B); lead([(129, 202), (161, 171)], B)
txt(49, 212, "średni", B); lead([(81, 212), (133, 212), (160, 172)], B)
txt(5, 224, "Wystąpienie opadu", R); txt(6, 237, "konwekcyjnego", R); lead([(98, 224), (140, 224), (146, 219)], R)
txt(5, 263, "Ciśnienie"); txt(5, 276, "zredukowane"); txt(5, 289, "do poziomu morza")
lead([(52, 263), (130, 263), (135, 262)])
txt(5, 318, "Wiatr na 10m:")
txt(10, 335, "poryw powyżej skali", R); lead([(112, 335), (118, 335)], R); lead([(130, 335), (138, 316)], R)
txt(10, 348, "max porywy wiatru", R); lead([(107, 348), (130, 348), (145, 340)], R)
txt(10, 368, "prędkość wiatru", "#10108c"); txt(10, 382, "w środku obszaru", "#10108c"); lead([(92, 367), (135, 367)], "#10108c")
txt(10, 409, "kierunek wiatru", "#10108c"); lead([(85, 410), (140, 410)], "#10108c")
txt(6, 429, "Wierzchołek chmur", BR); lead([(100, 429), (130, 429), (185, 447)], BR)
txt(6, 444, "Podstawa chmur*"); txt(6, 455, "o pokryciu")
txt(11, 468, "> 7.9 okt."); lead([(60, 468), (132, 468), (190, 456)])
txt(11, 479, "> 6.5 okt.", "#555555"); lead([(62, 480), (140, 480)], "#555555")
txt(11, 491, "> 4.5 okt.", "#999999"); lead([(60, 491), (130, 491), (140, 500)], "#999999")
txt(11, 501, "> 2.5 okt.", "#dddddd"); lead([(60, 501), (130, 501), (140, 506)], "#cccccc")
txt(11, 511.5, "> 0.1 okt.", "#ffffff", bg=BLUEBG)
lead([(55, 510), (135, 510)], BLUEBG); lead([(55, 512), (135, 512)], BLUEBG)
txt(6, 526, "Widzialność", ORANGE); lead([(67, 527), (128, 527), (175, 463)], ORANGE)
txt(6, 542, "Chmury:")
txt(10, 556.5, "wysokie", "#ffffff", bg=BLUEBG)
lead([(52, 556), (188, 556)], BLUEBG); lead([(52, 558), (188, 558)], BLUEBG)
txt(10, 569, "średnie", "#999999"); lead([(50, 571), (190, 571)], "#999999")
txt(10, 581, "niskie", "#555555"); lead([(37, 581), (122, 581)], "#555555"); lead([(133, 581), (140, 581)], "#555555")
txt(10, 593, "bardzo niskie", "#333333"); lead([(74, 594), (135, 594)], "#333333")
txt(6, 605, "Mgła", "#ffae00"); lead([(27, 605), (215, 605), (219, 595)], "#ffae00")
txt(6, 622, "Czas uniwersalny (UTC)", "#000", 11.5); lead([(140, 623), (150, 623), (157, 611)])
txt(5, 648, "<b>*</b> powyżej poziomu morza", "#000", 9)

layout.update(width=W, height=H, margin=dict(l=0, r=0, t=0, b=0, pad=0, autoexpand=False), paper_bgcolor="#ffffff", plot_bgcolor="rgba(0,0,0,0)",
              showlegend=False, barmode="overlay", shapes=shapes, annotations=annots,
              font=dict(family=FONT, size=11), hovermode=False)
fig.update_layout(**layout)
js = """
document.body.style.margin='0';document.body.style.overflow='hidden';
function crisp(){document.querySelectorAll('.js-line').forEach(function(p){
 var d=p.style.strokeDasharray; if(d&&d!=='none'){p.style.shapeRendering='crispEdges';}
});}
crisp();setTimeout(crisp,50);setTimeout(crisp,300);
"""
fig.write_html("out.html", config=dict(displayModeBar=False, staticPlot=True), post_script=js)
